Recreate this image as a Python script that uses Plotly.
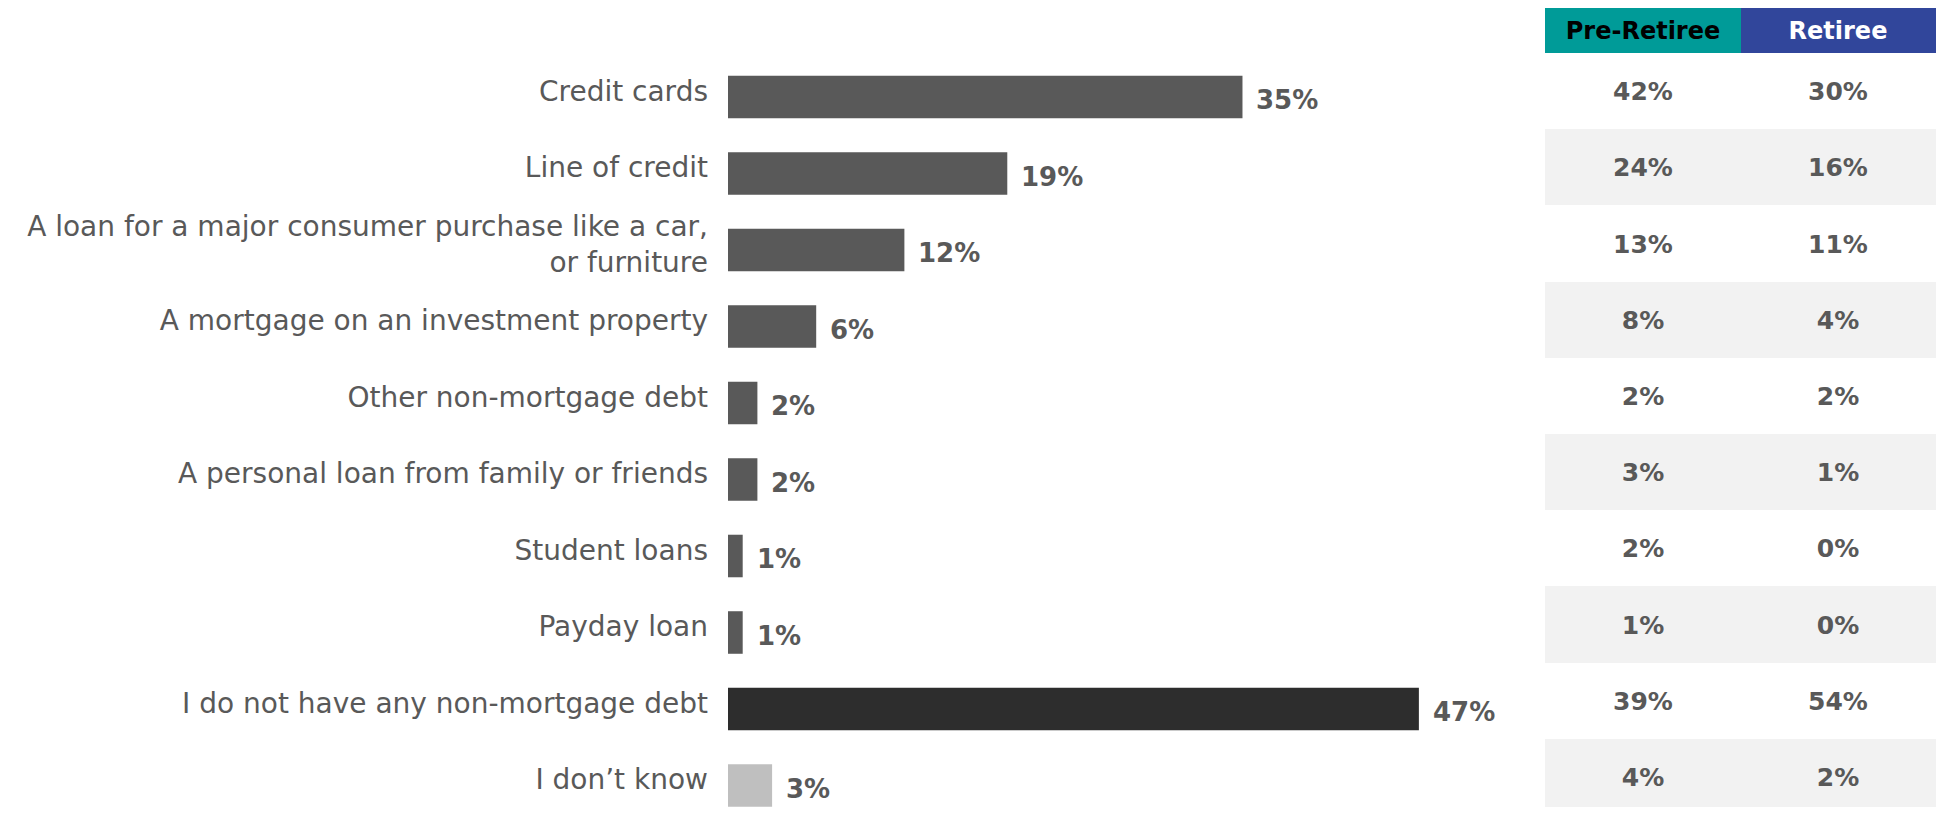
import plotly.graph_objects as go

# ---------------- data ----------------
categories = [
    "Credit cards",
    "Line of credit",
    "A loan for a major consumer purchase like a car,<br>or furniture",
    "A mortgage on an investment property",
    "Other non-mortgage debt",
    "A personal loan from family or friends",
    "Student loans",
    "Payday loan",
    "I do not have any non-mortgage debt",
    "I don\u2019t know",
]
total = [35, 19, 12, 6, 2, 2, 1, 1, 47, 3]
pre_retiree = [42, 24, 13, 8, 2, 3, 2, 1, 39, 4]
retiree = [30, 16, 11, 4, 2, 1, 0, 0, 54, 2]
headers = ["Pre-Retiree", "Retiree"]

# ---------------- style ----------------
# the page body has an 8px default margin on every side
OFF = 8
W, H = 1948 - OFF - 12, 815 - 2 * OFF
GRAY = "#595959"
bar_colors = [GRAY] * 8 + ["#2d2d2d", "#bfbfbf"]
LABEL_FONT = "DejaVu Sans, sans-serif"
BOLD_FONT = "DejaVu Sans, sans-serif"
TEAL = "#009b98"
BLUE = "#31469b"
header_text_colors = ["#000000", "#ffffff"]

fig = go.Figure()

# bars
fig.add_trace(go.Bar(
    x=total, y=categories, orientation="h",
    marker=dict(color=bar_colors, line=dict(width=0)),
    width=0.556, xaxis="x", yaxis="y", hoverinfo="skip",
))

# value labels for bars
for v, c in zip(total, categories):
    fig.add_annotation(
        x=v, y=c, xref="x", yref="y", text=f"<b>{v}%</b>",
        showarrow=False, xanchor="left", xshift=12, yshift=-3,
        font=dict(family=BOLD_FONT, size=26, color=GRAY),
    )

# table body (striped rows)
stripes = [[i % 2, i % 2] for i in range(len(categories))]
cell_text = [[f"{p}%", f"{r}%"] for p, r in zip(pre_retiree, retiree)]
fig.add_trace(go.Heatmap(
    z=stripes, x=headers, y=categories, text=cell_text,
    texttemplate="<b>%{text}</b>",
    textfont=dict(family=BOLD_FONT, size=25, color=GRAY),
    colorscale=[[0, "#ffffff"], [1, "#f2f2f2"]], zmin=0, zmax=1,
    showscale=False, xaxis="x2", yaxis="y2", hoverinfo="skip",
))

# table header
header_cells = [[f"<span style='color:{tc}'><b>{h}</b></span>"
                 for h, tc in zip(headers, header_text_colors)]]
fig.add_trace(go.Heatmap(
    z=[[0, 1]], x=headers, y=["header"], text=header_cells,
    texttemplate="%{text}",
    textfont=dict(family=BOLD_FONT, size=24, color="#000000"),
    colorscale=[[0, TEAL], [0.5, TEAL], [0.5, BLUE], [1, BLUE]],
    zmin=0, zmax=1, showscale=False, xaxis="x2", yaxis="y3",
    hoverinfo="skip",
))

bar_left, table_left = 728 - OFF, 1545 - OFF
top_px = 97 - OFF
step = 76.5
header_bottom = 53 - OFF
row_h = 76.2
body_h = H - header_bottom
fig.update_layout(
    width=W, height=H,
    margin=dict(l=0, r=0, t=0, b=0),
    paper_bgcolor="white", plot_bgcolor="rgba(0,0,0,0)",
    showlegend=False,
    xaxis=dict(domain=[bar_left / W, table_left / W], range=[0, 55.58],
               visible=False, fixedrange=True),
    yaxis=dict(domain=[0, 1], range=[(H - top_px) / step, -top_px / step],
               type="category", showgrid=False, zeroline=False, ticks="",
               showline=False, ticklabelstandoff=19, ticklabelshift=6,
               tickfont=dict(family=LABEL_FONT, size=28, color=GRAY),
               fixedrange=True),
    xaxis2=dict(domain=[table_left / W, 1], range=[-0.5, 1.5], anchor="y2",
                visible=False, type="category", fixedrange=True),
    yaxis2=dict(domain=[0, 1 - header_bottom / H],
                range=[body_h / row_h - 0.5, -0.5],
                anchor="x2", visible=False, type="category",
                fixedrange=True),
    yaxis3=dict(domain=[1 - header_bottom / H, 1], range=[-0.5, 0.5],
                anchor="x2", visible=False, type="category",
                fixedrange=True),
)

fig.write_html("out.html")
